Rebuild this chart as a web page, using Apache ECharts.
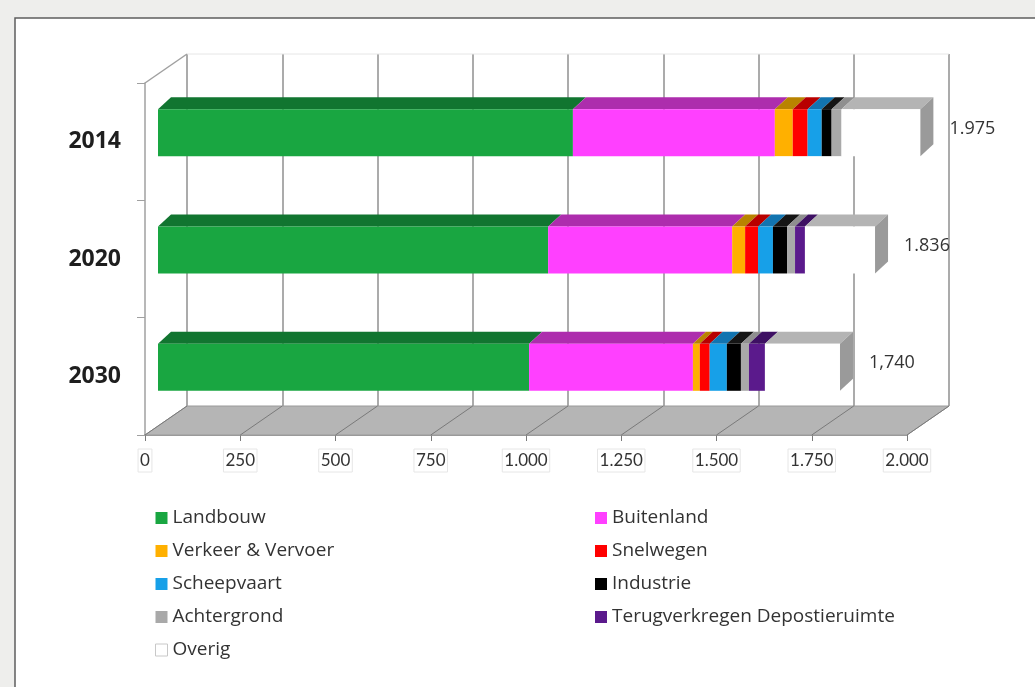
<!DOCTYPE html>
<html>
<head>
<meta charset="utf-8">
<script src="https://cdn.jsdelivr.net/npm/echarts@6/dist/echarts.min.js"></script>
<style>
  html, body { margin: 0; padding: 0; background: #eeeeec; }
  #chart { width: 1035px; height: 687px; }
</style>
</head>
<body>
<div id="chart"></div>
<script>
// categories + values
const years = ['2014', '2020', '2030'];
const totalLabels = ['1.975', '1.836', '1,740'];
const xTicks = [0, 250, 500, 750, 1000, 1250, 1500, 1750, 2000];

const landbouw = [1089, 1024, 974];
const buitenland = [530, 483, 430];
const verkeer = [47, 34, 18];
const snelwegen = [39, 34, 26];
const scheepvaart = [37, 39, 45];
const industrie = [26, 37, 37];
const achtergrond = [26, 21, 21];
const terugverkregen = [0, 26, 42];
const overig = [207, 184, 197];

const names = ['Landbouw', 'Buitenland', 'Verkeer & Vervoer', 'Snelwegen', 'Scheepvaart',
  'Industrie', 'Achtergrond', 'Terugverkregen Depostieruimte', 'Overig'];
const values = [landbouw, buitenland, verkeer, snelwegen, scheepvaart,
  industrie, achtergrond, terugverkregen, overig];
const frontColors = ['#19a641', '#ff40ff', '#ffb000', '#ff0000', '#17a0e8',
  '#000000', '#a9a9a9', '#5b1a8c', '#ffffff'];
const topColors = ['#117530', '#ad2dad', '#b98300', '#b80000', '#1274b0',
  '#151515', '#8f8f8f', '#3e1063', '#b4b4b4'];

const DEPTH = [42, -29];   // floor / wall depth in px
const BAR_SHIFT = [13, -9]; // where the bar front sits inside the depth
const BAR_DEPTH = [13, -12];

const chart = echarts.init(document.getElementById('chart'));

// stacked start/end for every segment
const starts = years.map(() => 0);
const stackData = values.map(arr => arr.map((v, i) => {
  const s = starts[i];
  starts[i] += v;
  return [i, s, s + v];
}));
const totals = starts.slice();

function barRenderer(k) {
  const last = k === names.length - 1;
  return function (params, api) {
    const cat = api.value(0), v0 = api.value(1), v1 = api.value(2);
    if (v1 <= v0) return null;
    const c0 = api.coord([v0, cat]);
    const c1 = api.coord([v1, cat]);
    const h = api.size([0, 1])[1] * 0.4;
    const xa = c0[0] + BAR_SHIFT[0], xb = c1[0] + BAR_SHIFT[0];
    const yt = c0[1] + BAR_SHIFT[1] - h / 2, yb = yt + h;
    const dx = BAR_DEPTH[0], dy = BAR_DEPTH[1];
    const children = [
      { type: 'polygon', shape: { points: [[xa, yt], [xb, yt], [xb + dx, yt + dy], [xa + dx, yt + dy]] },
        style: { fill: topColors[k] } },
      { type: 'rect', shape: { x: xa, y: yt, width: xb - xa, height: h },
        style: { fill: frontColors[k] } }
    ];
    if (last) {
      children.push({ type: 'polygon',
        shape: { points: [[xb, yt], [xb + dx, yt + dy], [xb + dx, yb + dy], [xb, yb]] },
        style: { fill: '#9a9a9a' } });
    }
    return { type: 'group', children: children };
  };
}

const barSeries = names.map((n, k) => ({
  name: n,
  type: 'custom',
  xAxisIndex: 0, yAxisIndex: 0,
  z: 5,
  itemStyle: { color: frontColors[k] },
  renderItem: barRenderer(k),
  encode: { x: [1, 2], y: 0 },
  data: stackData[k]
}));

const floorSeries = {
  type: 'custom', xAxisIndex: 0, yAxisIndex: 0, z: 1, silent: true,
  data: [0],
  renderItem: function (params, api) {
    const cs = params.coordSys;
    const bx = cs.x, by = cs.y + cs.height, ex = cs.x + cs.width;
    return { type: 'group', children: [
      { type: 'polygon', shape: { points: [[bx, by], [ex, by], [ex + DEPTH[0], by + DEPTH[1]], [bx + DEPTH[0], by + DEPTH[1]]] },
        style: { fill: '#b5b5b5', stroke: '#9a9a9a', lineWidth: 1 } },
      { type: 'line', shape: { x1: cs.x, y1: cs.y, x2: cs.x + DEPTH[0], y2: cs.y + DEPTH[1] },
        style: { stroke: '#a0a0a0', lineWidth: 1.5 } },
      { type: 'line', shape: { x1: cs.x + DEPTH[0], y1: cs.y + DEPTH[1], x2: ex + DEPTH[0], y2: cs.y + DEPTH[1] },
        style: { stroke: '#e6e6e6', lineWidth: 1 } }
    ] };
  }
};

const floorLines = {
  type: 'custom', xAxisIndex: 0, yAxisIndex: 0, z: 2, silent: true,
  data: xTicks.map(t => [t]),
  renderItem: function (params, api) {
    const cs = params.coordSys;
    const x = api.coord([api.value(0), 0])[0];
    const y = cs.y + cs.height;
    return { type: 'line', shape: { x1: x, y1: y, x2: x + DEPTH[0], y2: y + DEPTH[1] },
      style: { stroke: '#7a7a7a', lineWidth: 1 } };
  }
};

const labelSeries = {
  type: 'custom', xAxisIndex: 0, yAxisIndex: 0, z: 6, silent: true,
  data: totals.map((t, i) => [i, t]),
  renderItem: function (params, api) {
    const c = api.coord([api.value(1), api.value(0)]);
    return { type: 'text', style: {
      x: c[0] + BAR_SHIFT[0] + 29, y: c[1] + BAR_SHIFT[1] - 4,
      text: totalLabels[params.dataIndex], fill: '#333', fontSize: 18,
      fontFamily: 'Open Sans', verticalAlign: 'middle', align: 'left' } };
  }
};

const legendText = { fontSize: 19, color: '#333', fontFamily: 'Open Sans', lineHeight: 20 };
const legendData = names.map(n => n === 'Overig'
  ? { name: n, itemStyle: { color: '#ffffff', borderColor: '#c8c8c8', borderWidth: 1 } }
  : { name: n });

chart.setOption({
  backgroundColor: '#eeeeec',
  animation: false,
  graphic: [{
    type: 'rect', z: -10, silent: true,
    shape: { x: 15, y: 18, width: 1040, height: 700 },
    style: { fill: '#ffffff', stroke: '#5e5e5e', lineWidth: 1.5 }
  }],
  grid: [
    { left: 145, top: 83, width: 762, height: 352 },
    { left: 187, top: 54, width: 762, height: 352 }
  ],
  xAxis: [{
    gridIndex: 0, type: 'value', min: 0, max: 2000, interval: 250,
    splitLine: { show: false },
    axisLine: { show: true, lineStyle: { color: '#7a7a7a', width: 1.5 } },
    axisTick: { show: true, length: 6, lineStyle: { color: '#7a7a7a' } },
    axisLabel: {
      margin: 14, fontSize: 17, color: '#333', fontFamily: 'Lato',
      borderColor: '#e6e6e6', borderWidth: 1, padding: [3, 2, 3, 2],
      formatter: v => String(v).replace(/\B(?=(\d{3})+(?!\d))/g, '.')
    }
  }, {
    gridIndex: 1, type: 'value', min: 0, max: 2000, interval: 250,
    axisLine: { show: false }, axisTick: { show: false }, axisLabel: { show: false },
    splitLine: { show: true, lineStyle: { color: '#ababab', width: 2 } }
  }],
  yAxis: [{
    gridIndex: 0, type: 'category', data: years, inverse: true,
    axisLine: { show: true, lineStyle: { color: '#a0a0a0', width: 1.5 } },
    axisTick: { show: true, length: 8, lineStyle: { color: '#a0a0a0' } },
    axisLabel: { margin: 24, fontSize: 23, fontWeight: 'bold', color: '#1e1e1e', fontFamily: 'Open Sans' }
  }, {
    gridIndex: 1, type: 'value', show: false
  }],
  legend: [{
    data: legendData.filter((d, i) => i % 2 === 0),
    orient: 'vertical', left: 150, top: 503,
    icon: 'rect', itemWidth: 12, itemHeight: 12, itemGap: 13, itemStyle: { borderWidth: 0 },
    textStyle: legendText, selectedMode: false
  }, {
    data: legendData.filter((d, i) => i % 2 === 1),
    orient: 'vertical', left: 590, top: 503,
    icon: 'rect', itemWidth: 12, itemHeight: 12, itemGap: 13,
    textStyle: legendText, selectedMode: false
  }],
  series: [floorSeries, floorLines].concat(barSeries, [labelSeries])
});
</script>
</body>
</html>
